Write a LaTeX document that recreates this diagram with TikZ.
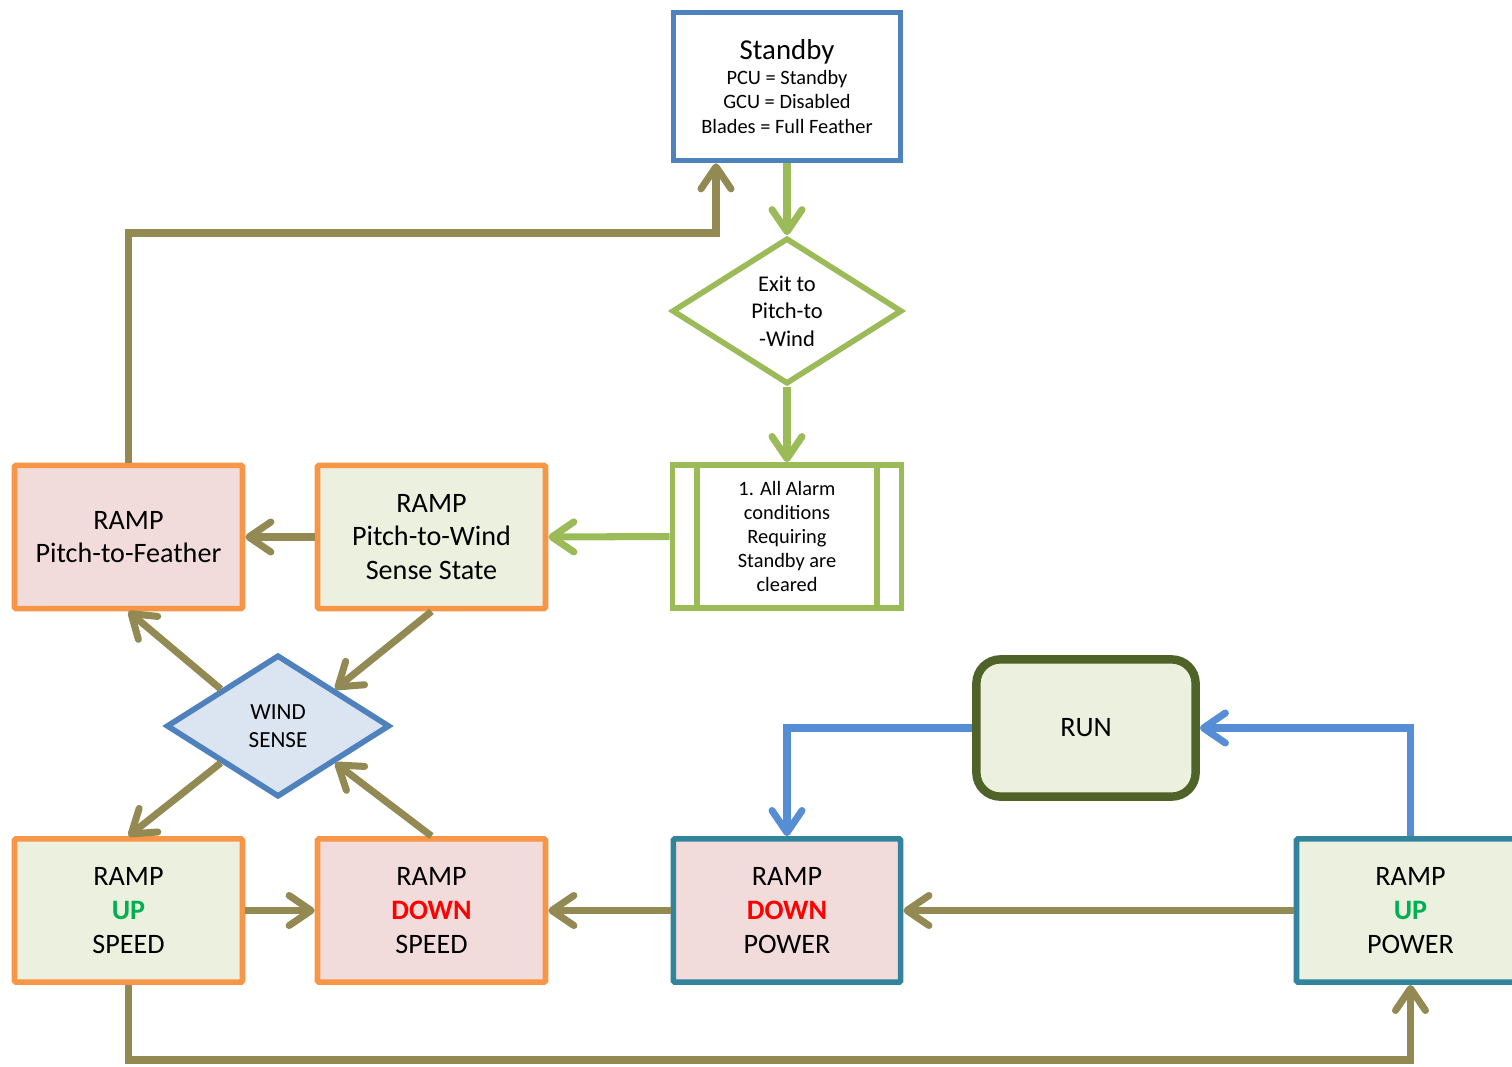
\documentclass[tikz,border=0pt]{standalone}
\usepackage{fontspec}
\setmainfont{Carlito}
\usepackage{tikz}
\usetikzlibrary{shapes.geometric,arrows.meta}
\definecolor{azulB}{HTML}{4F81BD}
\definecolor{verdeA}{HTML}{9BBB59}
\definecolor{naranja}{HTML}{F79646}
\definecolor{azulT}{HTML}{31849B}
\definecolor{oliva}{HTML}{938953}
\definecolor{verdeO}{HTML}{4F6228}
\definecolor{azulF}{HTML}{558ED5}
\definecolor{rosaF}{HTML}{F2DCDB}
\definecolor{verdeF}{HTML}{EBF1DE}
\definecolor{azulR}{HTML}{DBE5F1}
\definecolor{textoUP}{HTML}{00B050}
\definecolor{textoDOWN}{HTML}{FF0000}
\tikzstyle{estado}=[rectangle, draw=naranja, line width=4pt, rounded corners=1pt, minimum width=5.7cm, minimum height=3.58cm, inner sep=0pt, align=center, font=\fontsize{20}{24}\selectfont]
\tikzstyle{rombo}=[diamond, line width=4pt, inner sep=0pt, align=center]
\tikzstyle{flecha}=[line width=5pt, draw=oliva, -{Straight Barb[length=5.5mm,width=7.5mm,round]}]
\newcommand{\up}{{\bfseries\color{textoUP}UP}}
\newcommand{\down}{{\bfseries\color{textoDOWN}DOWN}}

\begin{document}
\begin{tikzpicture}[x=0.025cm, y=-0.025cm]
    \path[use as bounding box, clip] (0,0) rectangle (1512,1066);

    % Estado inicial y condiciones de salida
    \node[rectangle, draw=azulB, fill=white, line width=4pt, minimum width=5.68cm, minimum height=3.7cm, inner sep=0pt, align=center, font=\fontsize{14.5}{17.4}\selectfont] (standby) at (787,86.5)
        {{\fontsize{20.5}{21}\selectfont Standby}\\PCU = Standby\\GCU = Disabled\\Blades = Full Feather};
    \node[rombo, draw=verdeA, fill=white, aspect=1.58, minimum width=5.75cm, minimum height=3.65cm, font=\fontsize{16}{19.5}\selectfont] (exit) at (787,311)
        {Exit to\\Pitch-to\\-Wind};
    \node[rectangle, draw=verdeA, fill=white, line width=4pt, minimum width=5.73cm, minimum height=3.58cm, inner sep=0pt, align=center, font=\fontsize{14.5}{17.2}\selectfont] (alarm) at (787,536.5)
        {1. All Alarm\\conditions\\Requiring\\Standby are\\cleared};
    \draw[verdeA, line width=4pt] ([xshift=0.69cm]alarm.north west) -- ([xshift=0.69cm]alarm.south west);
    \draw[verdeA, line width=4pt] ([xshift=-0.69cm]alarm.north east) -- ([xshift=-0.69cm]alarm.south east);

    % Estados de rampa
    \node[estado, fill=rosaF] (feather) at (128.5,537) {RAMP\\Pitch-to-Feather};
    \node[estado, fill=verdeF] (sense) at (431.5,537) {RAMP\\Pitch-to-Wind\\Sense State};
    \node[rombo, draw=azulB, fill=azulR, aspect=1.57, minimum width=5.58cm, minimum height=3.55cm, font=\fontsize{16.4}{19.8}\selectfont] (wind) at (278,726) {WIND\\SENSE};
    \node[estado, fill=verdeF] (upsp) at (128.5,910.5) {RAMP\\\up\\SPEED};
    \node[estado, fill=rosaF] (downsp) at (431.5,910.5) {RAMP\\\down\\SPEED};
    \node[estado, draw=azulT, fill=rosaF, minimum width=5.68cm] (downpow) at (787,910.5) {RAMP\\\down\\POWER};
    \node[estado, draw=azulT, fill=verdeF] (uppow) at (1410.5,910.5) {RAMP\\\up\\POWER};
    \node[rectangle, draw=verdeO, fill=verdeF, line width=6pt, rounded corners=0.6cm, minimum width=5.48cm, minimum height=3.43cm, font=\fontsize{20}{23}\selectfont] (run) at (1086,728) {RUN};

    % Codos de las conexiones
    \coordinate (codoA) at (716,233);
    \coordinate (codoB) at (700,1060);

    % Flechas verdes
    \draw[flecha, draw=verdeA] (standby.south) -- (exit.north);
    \draw[flecha, draw=verdeA] (exit.south) -- (alarm.north);
    \draw[flecha, draw=verdeA] (alarm.west) -- (sense.east);

    % Flechas oliva
    \draw[flecha] (sense.west) -- (feather.east);
    \draw[flecha] (feather.north) |- (codoA) -- (codoA |- standby.south);
    \draw[flecha] (sense.south) -- (wind.north east);
    \draw[flecha] (wind.north west) -- (feather.south);
    \draw[flecha] (wind.south west) -- (upsp.north);
    \draw[flecha] (downsp.north) -- (wind.south east);
    \draw[flecha] (upsp.east) -- (downsp.west);
    \draw[flecha] (downpow.west) -- (downsp.east);
    \draw[flecha] (uppow.west) -- (downpow.east);
    \draw[flecha] (upsp.south) |- (codoB) -| (uppow.south);

    % Flechas azules
    \draw[flecha, draw=azulF] (run.west) -| (downpow.north);
    \draw[flecha, draw=azulF] (uppow.north) |- (run.east);
\end{tikzpicture}
\end{document}
